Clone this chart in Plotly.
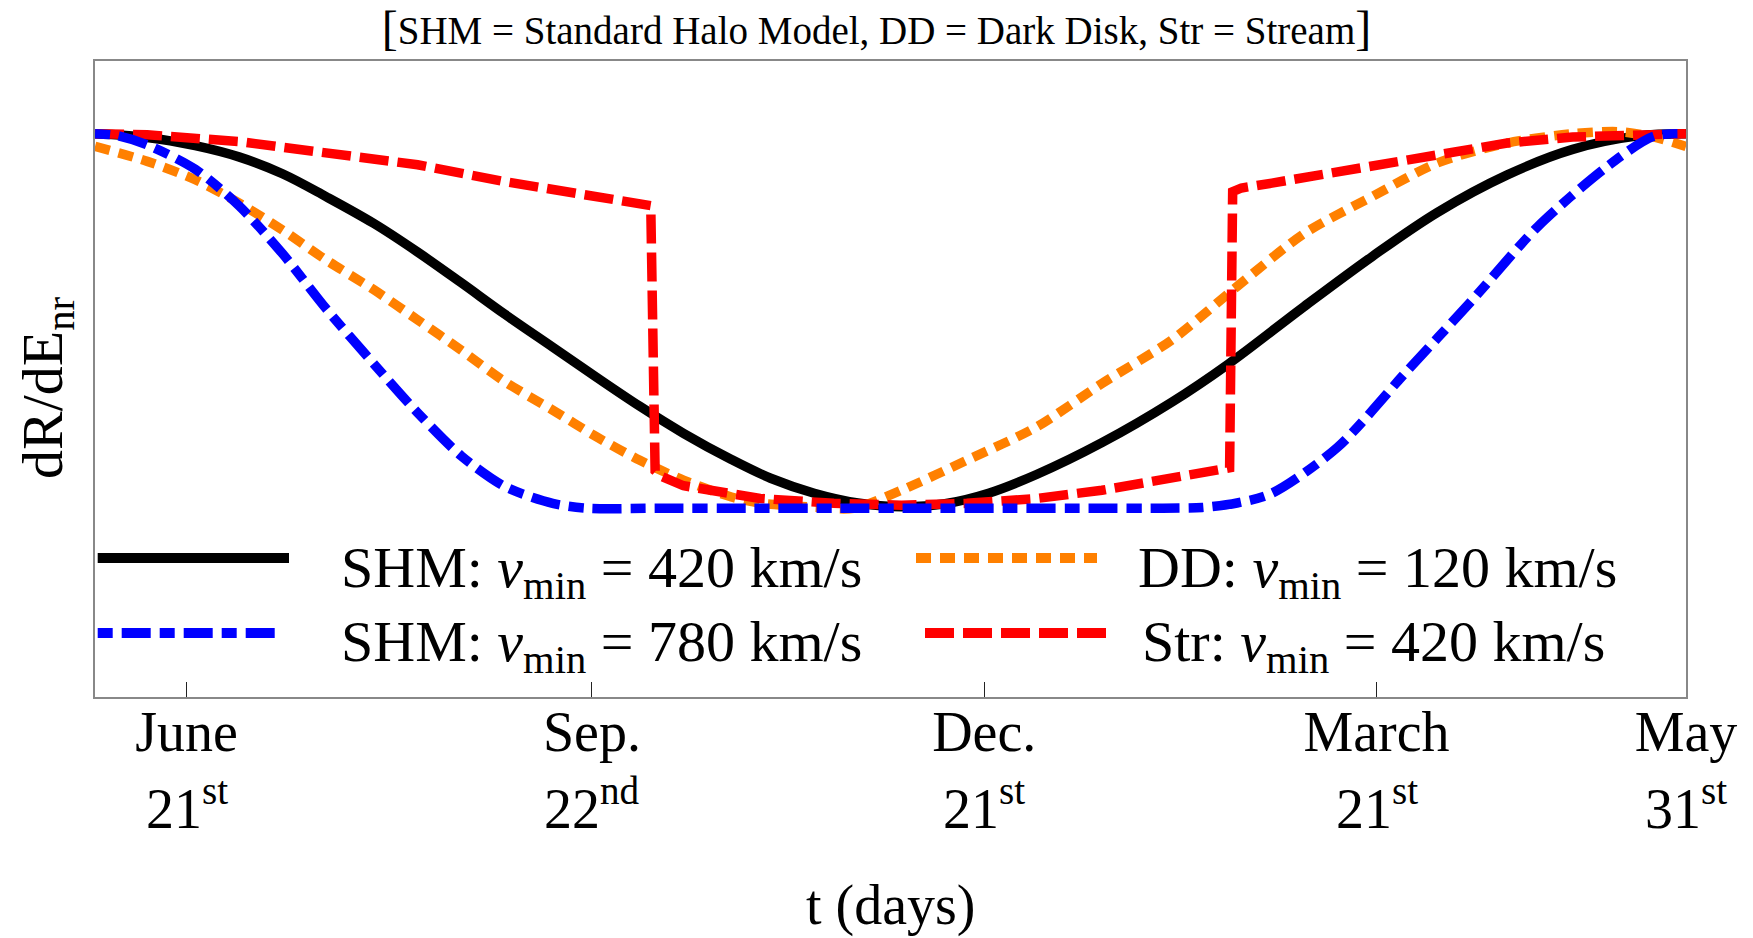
import plotly.graph_objects as go

# ---------------- data (days since May 31, normalized rate) ----------------
shm420_days = [0, 12, 23, 33, 43, 53, 64, 74, 84, 94, 105, 115, 125, 135, 146, 155,
               165, 175, 185, 195, 205, 216, 231, 247, 260, 277, 293, 308, 324, 339, 354, 365]
shm420_vals = [1.000, 0.990, 0.968, 0.938, 0.893, 0.832, 0.760, 0.684, 0.602, 0.518,
               0.430, 0.350, 0.272, 0.200, 0.130, 0.080, 0.040, 0.014, 0.004, 0.012,
               0.040, 0.090, 0.175, 0.283, 0.385, 0.535, 0.672, 0.790, 0.890, 0.958,
               0.994, 1.000]

shm780_days = [0, 5, 12, 23, 33, 43, 53, 64, 74, 84, 94, 105, 113, 130, 150, 170, 190,
               210, 230, 245, 254, 262, 270, 285, 300.5, 316, 331, 347, 357.6, 365]
shm780_vals = [1.000, 0.995, 0.970, 0.905, 0.808, 0.680, 0.533, 0.385, 0.255, 0.140,
               0.058, 0.013, 0.000, 0.000, 0.000, 0.000, 0.000, 0.000, 0.000, 0.000,
               0.002, 0.014, 0.040, 0.162, 0.360, 0.556, 0.752, 0.913, 0.993, 1.000]

dd120_days = [0, 12, 23, 33, 43, 53, 64, 74, 84, 94, 105, 115, 125, 135, 146, 153, 165,
              174, 185, 200, 216, 231, 247, 262, 277.5, 293, 308, 324, 339, 350, 358, 365]
dd120_vals = [0.966, 0.926, 0.877, 0.815, 0.743, 0.663, 0.583, 0.503, 0.422, 0.338,
              0.262, 0.191, 0.128, 0.075, 0.030, 0.013, 0.003, 0.000, 0.048, 0.128,
              0.217, 0.333, 0.449, 0.592, 0.734, 0.832, 0.922, 0.975, 1.000, 1.005,
              0.990, 0.966]

str420_days = [0, 12, 33, 53, 74, 94, 115, 127.5, 128.5, 130, 135, 145, 152.6, 169.5,
               185, 200, 216, 231, 247, 260.3, 261, 263, 270, 293, 308, 324, 339, 354, 365]
str420_vals = [1.000, 0.997, 0.979, 0.948, 0.917, 0.872, 0.828, 0.808, 0.100, 0.085,
               0.060, 0.038, 0.026, 0.013, 0.008, 0.013, 0.026, 0.048, 0.079, 0.108,
               0.845, 0.855, 0.868, 0.913, 0.948, 0.975, 0.991, 0.997, 1.000]

tick_days = [21, 114, 204, 294, 365]
tick_months = ["June", "Sep.", "Dec.", "March", "May"]
tick_dates = ["21<sup>st</sup>", "22<sup>nd</sup>", "21<sup>st</sup>", "21<sup>st</sup>", "31<sup>st</sup>"]

series_names = ["SHM: <i>v</i><sub>min</sub> = 420 km/s",
                "SHM: <i>v</i><sub>min</sub> = 780 km/s",
                "DD: <i>v</i><sub>min</sub> = 120 km/s",
                "Str: <i>v</i><sub>min</sub> = 420 km/s"]

# ---------------- styling ----------------
FONT = "Liberation Serif, Times New Roman, serif"
W, H = 1753, 938
ML, MR, MT, MB = 95, 67, 61, 241
LW = 9.5
BLACK, BLUE, ORANGE, RED = "#000000", "#0000FF", "#FF8000", "#FF0000"
DASH_BLUE = "15px,9px,29px,9px"
DASH_ORANGE = "15px,9px"
DASH_RED = "29px,9px"

pw, ph = W - ML - MR, H - MT - MB
def px(xp):
    return (xp - ML) / pw
def py(yp):
    return (H - MB - yp) / ph

fig = go.Figure()
fig.add_trace(go.Scatter(x=shm420_days, y=shm420_vals, mode="lines", name=series_names[0],
                         line=dict(color=BLACK, width=LW, shape="spline", smoothing=1.0)))
fig.add_trace(go.Scatter(x=dd120_days, y=dd120_vals, mode="lines", name=series_names[2],
                         line=dict(color=ORANGE, width=LW, dash=DASH_ORANGE, shape="spline", smoothing=0.8)))
fig.add_trace(go.Scatter(x=str420_days, y=str420_vals, mode="lines", name=series_names[3],
                         line=dict(color=RED, width=LW, dash=DASH_RED)))
fig.add_trace(go.Scatter(x=shm780_days, y=shm780_vals, mode="lines", name=series_names[1],
                         line=dict(color=BLUE, width=LW, dash=DASH_BLUE, shape="spline", smoothing=0.8)))

# ---------------- manual legend ----------------
legend_rows = [
    (97.7, 289, 558, BLACK, "solid", 339, 571, series_names[0]),
    (97.7, 275, 633, BLUE, DASH_BLUE, 339, 645, series_names[1]),
    (916, 1097, 558, ORANGE, DASH_ORANGE, 1136, 571, series_names[2]),
    (925, 1108, 633, RED, DASH_RED, 1140, 645, series_names[3]),
]
for x0, x1, yl, col, dash, xt, yt, txt in legend_rows:
    fig.add_shape(type="line", xref="paper", yref="paper", x0=px(x0), x1=px(x1),
                  y0=py(yl), y1=py(yl), line=dict(color=col, width=10, dash=dash))
    fig.add_annotation(xref="paper", yref="paper", x=px(xt), y=py(yt), text=txt,
                       showarrow=False, xanchor="left", yanchor="middle",
                       font=dict(family=FONT, size=58, color="black"))

# second line of the date tick labels
for d, t in zip(tick_days, tick_dates):
    fig.add_annotation(xref="x", yref="paper", x=d, y=py(804), text=t,
                       showarrow=False, xanchor="center", yanchor="middle",
                       font=dict(family=FONT, size=56, color="black"))

# axis titles
fig.add_annotation(xref="paper", yref="paper", x=px(47), y=py(388), text="dR/dE<sub>nr</sub>",
                   textangle=-90, showarrow=False, xanchor="center", yanchor="middle",
                   font=dict(family=FONT, size=58, color="black"))
fig.add_annotation(xref="paper", yref="paper", x=0.5, y=py(906), text="t (days)",
                   showarrow=False, xanchor="center", yanchor="middle",
                   font=dict(family=FONT, size=56, color="black"))

fig.update_layout(
    width=W, height=H,
    margin=dict(l=ML, r=MR, t=MT, b=MB),
    paper_bgcolor="white", plot_bgcolor="white",
    showlegend=False,
    title=dict(text='<span style="font-size:48px">[</span>SHM = Standard Halo Model, DD = Dark Disk, Str = Stream<span style="font-size:48px">]</span>',
               x=0.5, xref="container", xanchor="center",
               y=1 - 30 / H, yref="container", yanchor="middle",
               font=dict(family=FONT, size=39, color="black")),
    xaxis=dict(range=[0, 365], tickvals=tick_days, ticktext=tick_months,
               ticks="inside", ticklen=15, tickwidth=1.3, tickcolor="#222",
               ticklabelstandoff=-15,
               showline=True, mirror=True, linecolor="#888", linewidth=1.6,
               showgrid=False, zeroline=False,
               tickfont=dict(family=FONT, size=56, color="black")),
    yaxis=dict(range=[-0.504, 1.194], showticklabels=False, ticks="",
               showline=True, mirror=True, linecolor="#888", linewidth=1.6,
               showgrid=False, zeroline=False),
)

fig.write_html("out.html")
